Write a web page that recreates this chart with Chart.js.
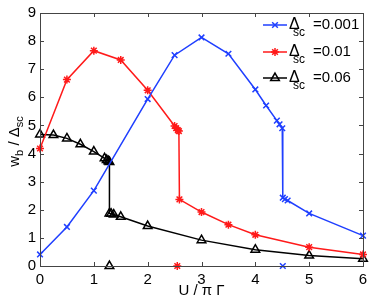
<!DOCTYPE html>
<html>
<head>
<meta charset="utf-8">
<script src="https://cdn.jsdelivr.net/npm/chart.js@4.4.0/dist/chart.umd.min.js"></script>
<style>
  html, body { margin: 0; padding: 0; background: #fff; }
  #wrap { width: 374px; height: 301px; }
</style>
</head>
<body>
<div id="wrap"><canvas id="chart" width="374" height="301"></canvas></div>
<script>
'use strict';

// ************************** DATA ****************************************** //
let xTicks = [0, 1, 2, 3, 4, 5, 6];
let yTicks = [0, 1, 2, 3, 4, 5, 6, 7, 8, 9];

let legendLabels = ['=0.001', '=0.01', '=0.06'];

// delta_sc = 0.001
let blueX = [0, 0.5, 1, 2, 2.5, 3, 3.5, 4, 4.2, 4.4, 4.45, 4.5, 4.51, 4.55, 4.6, 5, 6];
let blueY = [0.41, 1.39, 2.68, 5.94, 7.5, 8.13, 7.55, 6.28, 5.71, 5.17, 5.04, 4.9, 2.43, 2.38, 2.33, 1.87, 1.08];

// delta_sc = 0.01
let redX = [0, 0.5, 1, 1.5, 2, 2.5, 2.53, 2.56, 2.58, 2.59, 3, 3.5, 4, 5, 6];
let redY = [4.18, 6.63, 7.66, 7.33, 6.25, 4.98, 4.9, 4.83, 4.8, 2.37, 1.92, 1.47, 1.11, 0.67, 0.41];

// delta_sc = 0.06
let blackX = [0, 0.25, 0.5, 0.75, 1, 1.2, 1.24, 1.27, 1.29, 1.29, 1.32, 1.37, 1.5, 2, 3, 4, 5, 6];
let blackY = [4.68, 4.66, 4.54, 4.33, 4.07, 3.83, 3.77, 3.73, 3.7, 1.87, 1.86, 1.83, 1.75, 1.42, 0.92, 0.58, 0.37, 0.26];

// single points sitting on the axis
let zeroX = [4.51, 2.55, 1.29];
let zeroY = [0, 0, 0];

// ************************** STYLE ***************************************** //
const FONT = "'Liberation Sans', Arial, Helvetica, sans-serif";
const BLUE = '#1f3fff';
const RED = '#ff1a1a';
const BLACK = '#000000';

let colors = [BLUE, RED, BLACK];
let markers = ['crossRot', 'star', 'triangle'];
let radii = [4, 4, 5];

function toPoints(xs, ys) {
  let pts = [];
  for(let i = 0; i < xs.length; i++) {
    pts.push({x: xs[i], y: ys[i]});
  }
  return pts;
}

function lineSet(xs, ys, i) {
  return {
    data: toPoints(xs, ys),
    borderColor: colors[i],
    backgroundColor: 'rgba(0,0,0,0)',
    borderWidth: 1.5,
    pointStyle: markers[i],
    pointRadius: radii[i],
    pointBorderColor: colors[i],
    pointBackgroundColor: 'rgba(0,0,0,0)',
    pointBorderWidth: 1.5,
    tension: 0,
    clip: false
  };
}

function pointSet(i) {
  let set = lineSet([zeroX[i]], [zeroY[i]], i);
  set.showLine = false;
  return set;
}

// ************************** PLUGIN: FRAME, TICKS, TEXT ******************** //
let framePlugin = {
  id: 'frame',
  afterDraw(chart) {
    let ctx = chart.ctx;
    let a = chart.chartArea;
    let xs = chart.scales.x;
    let ys = chart.scales.y;

    ctx.save();
    ctx.strokeStyle = '#444';
    ctx.lineWidth = 1;
    ctx.strokeRect(Math.round(a.left) + 0.5, Math.round(a.top) + 0.5,
      Math.round(a.right - a.left), Math.round(a.bottom - a.top));

    let len = 4;
    ctx.beginPath();
    xTicks.forEach(v => {
      let px = Math.round(xs.getPixelForValue(v)) + 0.5;
      ctx.moveTo(px, a.bottom); ctx.lineTo(px, a.bottom - len);
      ctx.moveTo(px, a.top); ctx.lineTo(px, a.top + len);
    });
    yTicks.forEach(v => {
      let py = Math.round(ys.getPixelForValue(v)) + 0.5;
      ctx.moveTo(a.left, py); ctx.lineTo(a.left + len, py);
      ctx.moveTo(a.right, py); ctx.lineTo(a.right - len, py);
    });
    ctx.stroke();

    // axis titles
    ctx.fillStyle = '#000';
    ctx.textBaseline = 'alphabetic';
    ctx.textAlign = 'left';

    ctx.font = '15px ' + FONT;
    let xt = 'U / \u03c0 \u0393';
    let w = ctx.measureText(xt).width;
    ctx.fillText(xt, (a.left + a.right) / 2 - w / 2, 295);

    // y title, rotated: w_b / Delta_sc
    ctx.save();
    ctx.translate(19, (a.top + a.bottom) / 2 + 2);
    ctx.rotate(-Math.PI / 2);
    let parts = [
      ['w', 15, 0], ['b', 11, 4], [' / ', 15, 0], ['\u0394', 15, 0], ['sc', 11, 4]
    ];
    let total = 0;
    parts.forEach(p => { ctx.font = p[1] + 'px ' + FONT; total += ctx.measureText(p[0]).width; });
    let cx = -total / 2;
    parts.forEach(p => {
      ctx.font = p[1] + 'px ' + FONT;
      ctx.fillText(p[0], cx, p[2]);
      cx += ctx.measureText(p[0]).width;
    });
    ctx.restore();

    // legend
    let rowY = [25, 52, 78];
    for(let i = 0; i < legendLabels.length; i++) {
      let y = rowY[i];
      ctx.strokeStyle = colors[i];
      ctx.lineWidth = 1.5;
      ctx.beginPath();
      ctx.moveTo(263, y);
      ctx.lineTo(287, y);
      ctx.stroke();
      ctx.fillStyle = 'rgba(0,0,0,0)';
      Chart.helpers.drawPoint(ctx, {
        pointStyle: markers[i],
        radius: radii[i],
        borderWidth: 1.5,
        rotation: 0
      }, 275, y);
      ctx.fillStyle = '#000';
      ctx.font = '16px ' + FONT;
      ctx.fillText('\u0394', 289, y + 4);
      ctx.font = '12px ' + FONT;
      ctx.fillText('sc', 293, y + 11);
      ctx.font = '15px ' + FONT;
      ctx.fillText(legendLabels[i], 313, y + 4);
    }
    ctx.restore();
  }
};

// ************************** CHART ***************************************** //
let chartEl = document.getElementById('chart');

let chartObj = {
  type: 'line',
  data: {
    datasets: [
      lineSet(blueX, blueY, 0),
      lineSet(redX, redY, 1),
      lineSet(blackX, blackY, 2),
      pointSet(0),
      pointSet(1),
      pointSet(2)
    ]
  },
  options: {
    responsive: false,
    animation: false,
    layout: {
      padding: {left: 0, right: 11, top: 10, bottom: 0}
    },
    plugins: {
      legend: {display: false},
      tooltip: {enabled: false}
    },
    scales: {
      x: {
        type: 'linear',
        min: 0,
        max: 6,
        afterFit: scale => { scale.height = 35; },
        afterBuildTicks: scale => { scale.ticks = xTicks.map(v => ({value: v})); },
        grid: {display: false, drawTicks: false},
        border: {display: false},
        ticks: {
          color: '#000',
          padding: 5,
          maxRotation: 0,
          font: {family: FONT, size: 15}
        }
      },
      y: {
        type: 'linear',
        min: 0,
        max: 9,
        afterFit: scale => { scale.width = 40; },
        afterBuildTicks: scale => { scale.ticks = yTicks.map(v => ({value: v})); },
        grid: {display: false, drawTicks: false},
        border: {display: false},
        ticks: {
          color: '#000',
          padding: 4,
          font: {family: FONT, size: 15}
        }
      }
    }
  },
  plugins: [framePlugin]
};

new Chart(chartEl, chartObj);
</script>
</body>
</html>
